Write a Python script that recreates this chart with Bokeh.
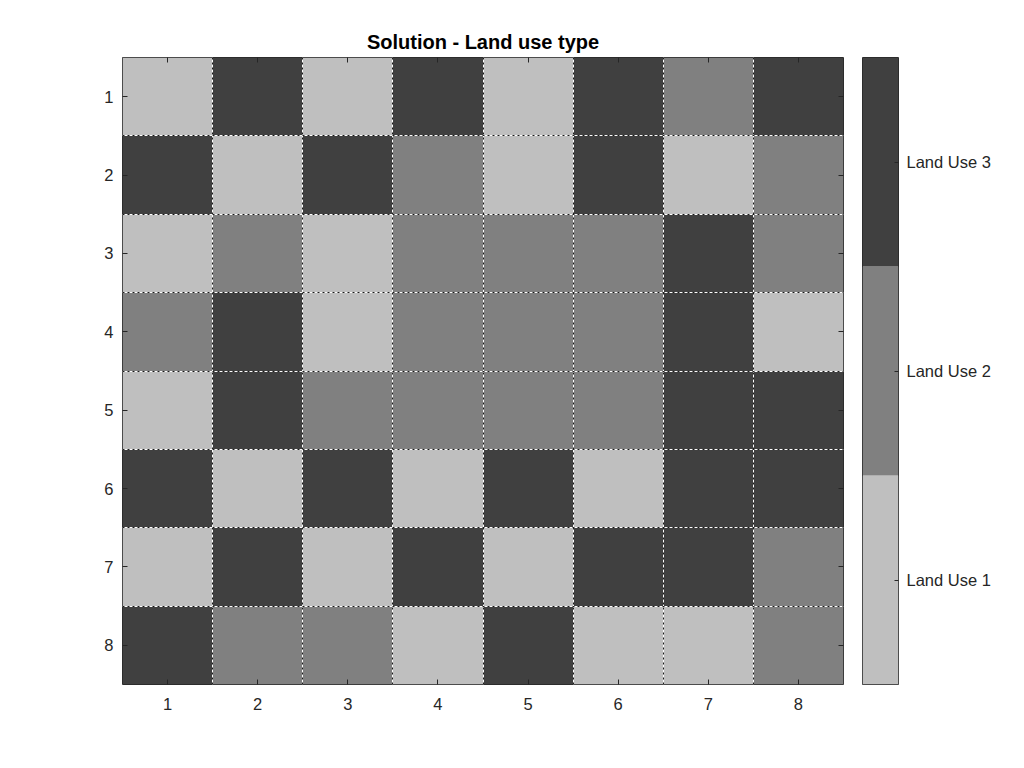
from bokeh.plotting import figure
from bokeh.layouts import row
from bokeh.models import FixedTicker, Grid, LinearAxis, ColumnDataSource
from bokeh.embed import file_html
from bokeh.resources import INLINE

# ---- data ----
row_labels = [1, 2, 3, 4, 5, 6, 7, 8]
col_labels = [1, 2, 3, 4, 5, 6, 7, 8]
land_use = [
    [1, 3, 1, 3, 1, 3, 2, 3],
    [3, 1, 3, 2, 1, 3, 1, 2],
    [1, 2, 1, 2, 2, 2, 3, 2],
    [2, 3, 1, 2, 2, 2, 3, 1],
    [1, 3, 2, 2, 2, 2, 3, 3],
    [3, 1, 3, 1, 3, 1, 3, 3],
    [1, 3, 1, 3, 1, 3, 3, 2],
    [3, 2, 2, 1, 3, 1, 1, 2],
]
levels = [1, 2, 3]
level_names = ["Land Use 1", "Land Use 2", "Land Use 3"]
level_colors = ["#bfbfbf", "#808080", "#404040"]
title_text = "Solution - Land use type"

FONT = "Liberation Sans"
TXT = "#262626"
LBL = "16.5px"

xs, ys, cs = [], [], []
for i, r in enumerate(row_labels):
    for j, c in enumerate(col_labels):
        xs.append(c)
        ys.append(r)
        cs.append(level_colors[levels.index(land_use[i][j])])
src = ColumnDataSource(dict(x=xs, y=ys, color=cs))

x_lo, x_hi = col_labels[0] - 0.5, col_labels[-1] + 0.5
y_lo, y_hi = row_labels[0] - 0.5, row_labels[-1] + 0.5

p = figure(x_range=(x_lo, x_hi), y_range=(y_hi, y_lo),
           frame_width=721, frame_height=627,
           min_border_left=122, min_border_right=19,
           min_border_top=57, min_border_bottom=60,
           toolbar_location=None, output_backend="svg",
           title=title_text)
p.title.align = "center"
p.title.text_font = FONT
p.title.text_font_size = "20px"
p.title.text_font_style = "bold"
p.title.text_color = "#000000"

p.rect(x="x", y="y", width=1, height=1, source=src,
       fill_color="color", line_color=None)

p.grid.visible = False
edges_x = [c - 0.5 for c in col_labels] + [x_hi]
edges_y = [r - 0.5 for r in row_labels] + [y_hi]
for dim, ticks in ((0, edges_x), (1, edges_y)):
    g1 = Grid(dimension=dim, ticker=FixedTicker(ticks=ticks),
              grid_line_color="white", grid_line_width=1, level="overlay")
    g2 = Grid(dimension=dim, ticker=FixedTicker(ticks=ticks),
              grid_line_color="#1a1a1a", grid_line_width=1,
              grid_line_dash="2 3", level="overlay")
    p.add_layout(g1)
    p.add_layout(g2)

p.outline_line_color = "#262626"
p.outline_line_width = 1

for ax in (p.xaxis[0], p.yaxis[0]):
    ax.axis_line_color = None
    ax.major_tick_in = 5
    ax.major_tick_out = 0
    ax.minor_tick_line_color = None
    ax.major_tick_line_color = TXT
    ax.major_label_text_font = FONT
    ax.major_label_text_font_size = LBL
    ax.major_label_text_color = TXT
p.xaxis[0].ticker = FixedTicker(ticks=col_labels)
p.yaxis[0].ticker = FixedTicker(ticks=row_labels)
p.xaxis[0].major_label_standoff = 13
p.yaxis[0].major_label_standoff = 9

for loc, ticks in (("above", col_labels), ("right", row_labels)):
    ax = LinearAxis(ticker=FixedTicker(ticks=ticks))
    ax.axis_line_color = None
    ax.major_tick_in = 5
    ax.major_tick_out = 0
    ax.minor_tick_line_color = None
    ax.major_tick_line_color = TXT
    ax.major_label_text_font_size = "1px"
    ax.major_label_text_color = None
    ax.major_label_standoff = 0
    p.add_layout(ax, loc)

# ---- colorbar ----
cb = figure(x_range=(0, 1), y_range=(levels[0] - 0.5, levels[-1] + 0.5),
            frame_width=36, frame_height=627,
            min_border_left=0, min_border_right=110,
            min_border_top=57, min_border_bottom=60,
            x_axis_location=None, y_axis_location="right",
            toolbar_location=None, output_backend="svg")
cb.quad(left=[0] * len(levels), right=[1] * len(levels),
        bottom=[l - 0.5 for l in levels], top=[l + 0.5 for l in levels],
        fill_color=level_colors, line_color=None)
cb.grid.visible = False
cb.outline_line_color = "#262626"
ya = cb.yaxis[0]
ya.ticker = FixedTicker(ticks=levels)
ya.major_label_overrides = {l: nm for l, nm in zip(levels, level_names)}
ya.axis_line_color = None
ya.major_tick_in = 4
ya.major_tick_out = 0
ya.minor_tick_line_color = None
ya.major_tick_line_color = TXT
ya.major_label_text_font = FONT
ya.major_label_text_font_size = LBL
ya.major_label_text_color = TXT
ya.major_label_standoff = 8

layout = row(p, cb, spacing=0)
open("out.html", "w").write(file_html(layout, INLINE))
